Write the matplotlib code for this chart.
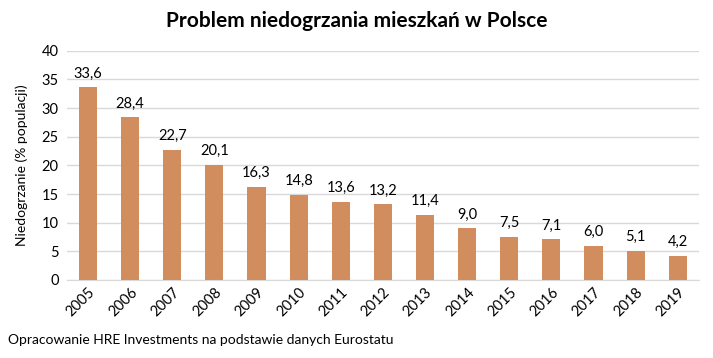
import matplotlib.pyplot as plt

years = ["2005", "2006", "2007", "2008", "2009", "2010", "2011", "2012",
         "2013", "2014", "2015", "2016", "2017", "2018", "2019"]
values = [33.6, 28.4, 22.7, 20.1, 16.3, 14.8, 13.6, 13.2, 11.4, 9.0, 7.5, 7.1, 6.0, 5.1, 4.2]
yticks = [0, 5, 10, 15, 20, 25, 30, 35, 40]

plt.rcParams["font.family"] = ["Lato", "DejaVu Sans"]

fig = plt.figure(figsize=(7.13, 3.58), dpi=100)
ax = fig.add_axes([0.094, 0.218, 0.886, 0.640])

x = range(len(years))
ax.bar(x, values, width=0.43, color="#D28D5E", zorder=3)
for xi, v in zip(x, values):
    ax.text(xi, v + 1.2, f"{v:.1f}".replace(".", ","), ha="center", va="bottom",
            fontsize=10.5, color="#000000")

ax.set_xlim(-0.5, len(years) - 0.5)
ax.set_ylim(0, 40)
ax.set_yticks(yticks)
ax.set_yticklabels([str(t) for t in yticks], fontsize=10.5)
ax.set_xticks(list(x))
ax.set_xticklabels(years, rotation=45, ha="right", rotation_mode="anchor", fontsize=10.5)
ax.tick_params(axis="both", length=0, pad=6)
ax.tick_params(axis="x", pad=4)
ax.grid(axis="y", color="#D9D9D9", linewidth=1, zorder=0)
for side in ["top", "right", "left"]:
    ax.spines[side].set_visible(False)
ax.spines["bottom"].set_color("#D9D9D9")

ax.set_ylabel("Niedogrzanie (% populacji)", fontsize=10, labelpad=10)

fig.text(0.5, 0.94, "Problem niedogrzania mieszkań w Polsce", ha="center", va="center",
         fontsize=15, fontweight="bold")
fig.text(0.011, 0.05, "Opracowanie HRE Investments na podstawie danych Eurostatu",
         ha="left", va="center", fontsize=10)

fig.savefig("out.png", dpi=100, facecolor="white")
